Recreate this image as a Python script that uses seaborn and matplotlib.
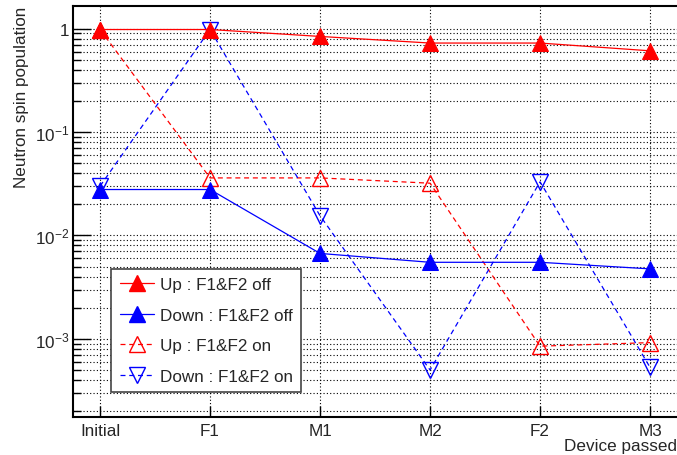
import matplotlib
matplotlib.use("Agg")
import matplotlib.pyplot as plt
import matplotlib.ticker as mticker
from matplotlib.lines import Line2D
import seaborn as sns
import pandas as pd

devices = ["Initial", "F1", "M1", "M2", "F2", "M3"]
up_off = [0.98, 0.98, 0.84, 0.725, 0.725, 0.61]
down_off = [0.0278, 0.0278, 0.0067, 0.0055, 0.0055, 0.00475]
up_on = [0.98, 0.036, 0.036, 0.032, 0.00085, 0.00092]
down_on = [0.030, 0.98, 0.0155, 0.00050, 0.033, 0.00053]
labels = ["Up : F1&F2 off", "Down : F1&F2 off", "Up : F1&F2 on", "Down : F1&F2 on"]

sns.set_theme(style="white")
plt.rcParams['font.family'] = ['Liberation Sans', 'DejaVu Sans']
plt.rcParams['mathtext.fontset'] = 'custom'
plt.rcParams['mathtext.rm'] = 'Liberation Sans'
plt.rcParams['mathtext.it'] = 'Liberation Sans'

fig = plt.figure(figsize=(6.77, 4.56), dpi=100)
ax = fig.add_axes([0.108, 0.083, 0.892, 0.902])

pos = list(range(len(devices)))
df = pd.DataFrame({"pos": pos, "up_off": up_off, "down_off": down_off,
                   "up_on": up_on, "down_on": down_on})

ms = 12
dash = (0, (4, 3))
sns.lineplot(data=df, x="pos", y="up_off", ax=ax, color="red", lw=0.9,
             marker="^", markersize=ms, markerfacecolor="red",
             markeredgecolor="red", linestyle="-", zorder=4)
sns.lineplot(data=df, x="pos", y="down_off", ax=ax, color="blue", lw=0.9,
             marker="^", markersize=ms, markerfacecolor="blue",
             markeredgecolor="blue", linestyle="-", zorder=4)
sns.lineplot(data=df, x="pos", y="up_on", ax=ax, color="red", lw=0.9,
             marker="^", markersize=ms, markerfacecolor="none",
             markeredgecolor="red", markeredgewidth=1.0,
             linestyle=dash, zorder=3)
sns.lineplot(data=df, x="pos", y="down_on", ax=ax, color="blue", lw=0.9,
             marker="v", markersize=ms, markerfacecolor="none",
             markeredgecolor="blue", markeredgewidth=1.0,
             linestyle=dash, zorder=3)

ax.set_yscale("log")
ax.set_ylim(1.75e-4, 1.66)
ax.set_xlim(-0.245, 5.245)
ax.set_xticks(pos)
ax.set_xticklabels(devices, fontsize=12.3)

ax.yaxis.set_major_locator(mticker.FixedLocator([1e-3, 1e-2, 1e-1, 1]))
ax.yaxis.set_minor_locator(mticker.LogLocator(base=10, subs=range(2, 10), numticks=20))
ax.yaxis.set_minor_formatter(mticker.NullFormatter())
ax.set_yticklabels(["$10^{-3}$", "$10^{-2}$", "$10^{-1}$", "1"], fontsize=12.3)

ax.grid(True, which="major", axis="both", color="black", linestyle=(0, (1, 2)), lw=0.8)
ax.grid(True, which="minor", axis="y", color="black", linestyle=(0, (1, 2)), lw=0.8)

ax.tick_params(axis="y", which="major", direction="in", length=13, width=1, color="black", left=True, pad=3)
ax.tick_params(axis="y", which="minor", direction="in", length=6, width=1, color="black", left=True)
ax.tick_params(axis="x", which="major", direction="in", length=8, width=1, color="black", bottom=True, pad=4)

for side in ["left", "bottom", "top"]:
    ax.spines[side].set_color("black")
    ax.spines[side].set_linewidth(1.5)
ax.spines["right"].set_visible(False)

ax.set_xlabel("Device passed", fontsize=12.3, loc="right", labelpad=0)
ax.set_ylabel("Neutron spin population", fontsize=12.3, loc="top", labelpad=4)

handles = [
    Line2D([], [], color="red", lw=0.9, marker="^", markersize=ms, markerfacecolor="red", markeredgecolor="red"),
    Line2D([], [], color="blue", lw=0.9, marker="^", markersize=ms, markerfacecolor="blue", markeredgecolor="blue"),
    Line2D([], [], color="red", lw=0.9, linestyle=dash, marker="^", markersize=ms, markerfacecolor="none", markeredgecolor="red"),
    Line2D([], [], color="blue", lw=0.9, linestyle=dash, marker="v", markersize=ms, markerfacecolor="none", markeredgecolor="blue"),
]
leg = ax.legend(handles, labels, loc="lower left", bbox_to_anchor=(0.063, 0.061),
                borderaxespad=0, fontsize=12.3, handlelength=2.0, labelspacing=0.9,
                handletextpad=0.35, borderpad=0.5, fancybox=False, framealpha=1,
                edgecolor="#444444")
leg.get_frame().set_linewidth(1.2)
leg.set_zorder(10)

fig.savefig("out.png", dpi=100)
